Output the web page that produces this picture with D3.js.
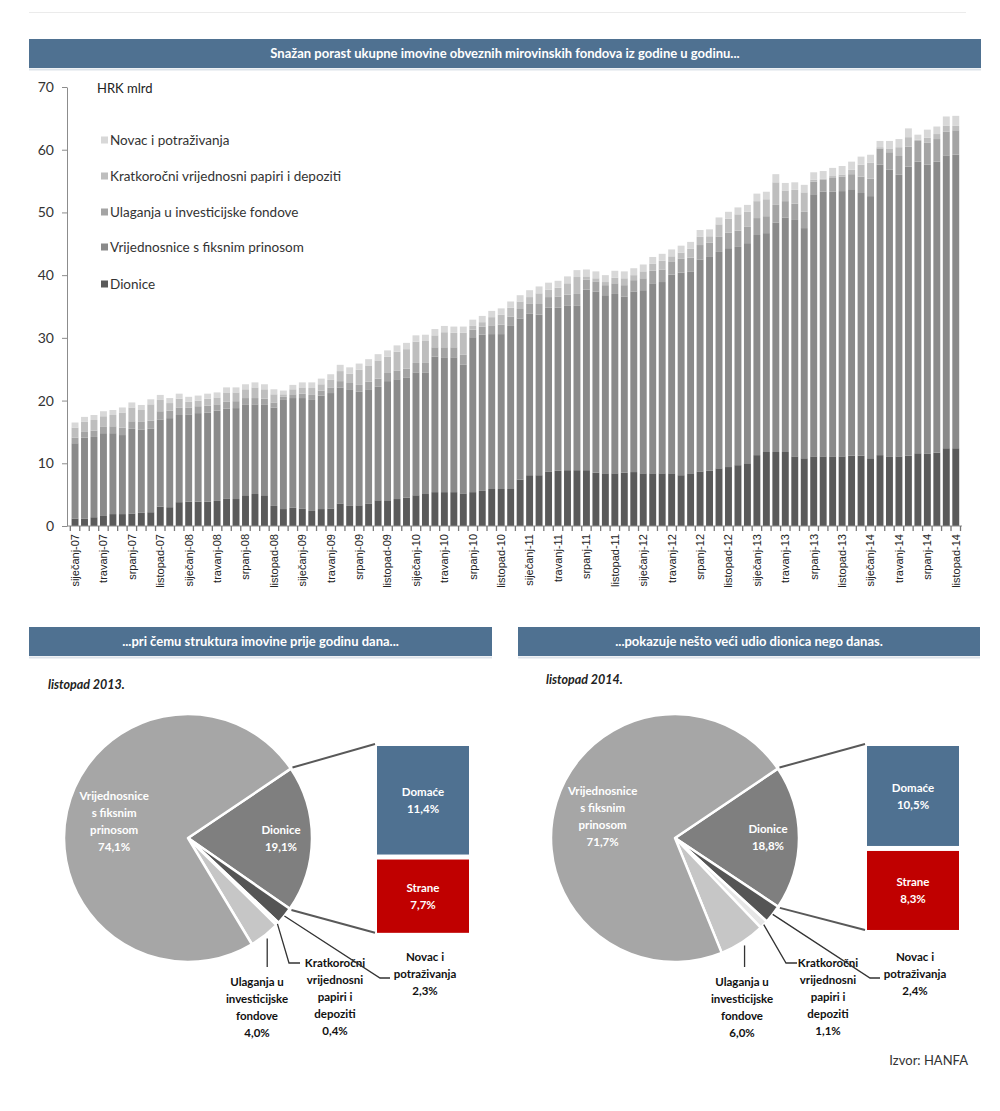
<!DOCTYPE html>
<html><head><meta charset="utf-8">
<script src="https://cdn.jsdelivr.net/npm/d3@7"></script>
<style>body{margin:0;background:#fff}svg{display:block}</style>
</head><body>
<svg id="c" width="1000" height="1111"></svg>
<script>
// ---------- DATA ----------
const tickLabels = [
  "siječanj-07","travanj-07","srpanj-07","listopad-07",
  "siječanj-08","travanj-08","srpanj-08","listopad-08",
  "siječanj-09","travanj-09","srpanj-09","listopad-09",
  "siječanj-10","travanj-10","srpanj-10","listopad-10",
  "siječanj-11","travanj-11","srpanj-11","listopad-11",
  "siječanj-12","travanj-12","srpanj-12","listopad-12",
  "siječanj-13","travanj-13","srpanj-13","listopad-13",
  "siječanj-14","travanj-14","srpanj-14","listopad-14"
];
const dionice = [
  1.2,1.2,1.4,1.6,1.9,1.9,2.0,2.1,2.2,3.1,3.0,3.8,
  3.9,3.9,3.9,4.0,4.4,4.3,4.9,5.1,4.9,3.2,2.7,2.9,
  2.8,2.4,2.7,2.8,3.6,3.2,3.3,3.6,4.1,4.1,4.3,4.5,
  4.9,5.1,5.4,5.4,5.4,5.2,5.4,5.6,5.9,5.9,5.9,7.4,
  8.1,8.1,8.7,8.8,8.9,8.9,8.9,8.5,8.4,8.4,8.5,8.6,
  8.4,8.4,8.4,8.4,8.1,8.4,8.7,8.8,9.2,9.4,9.7,10.0,
  11.3,11.8,11.8,11.8,11.1,10.8,11.1,11.1,11.1,11.1,11.2,11.2,
  10.8,11.3,11.1,11.1,11.2,11.6,11.5,11.7,12.4,12.4
];
const vrijednosnice = [
  12.0,12.9,12.8,13.2,12.9,12.6,13.5,13.3,13.3,13.9,14.2,13.9,
  13.9,14.1,14.2,14.4,14.3,14.5,14.5,14.3,14.5,15.7,17.4,17.5,
  17.6,17.7,18.1,18.4,18.5,18.6,18.1,18.2,18.1,19.0,19.1,19.2,
  19.6,19.4,21.6,21.5,21.5,20.5,24.7,24.9,24.7,24.7,26.0,25.7,
  25.8,25.6,26.1,26.0,26.2,26.2,28.8,28.9,28.4,28.6,28.1,28.8,
  29.2,30.3,30.5,31.7,32.3,32.2,33.8,34.1,34.5,34.9,34.8,35.1,
  35.1,34.9,36.6,37.4,37.7,36.7,41.8,42.2,42.2,42.3,42.5,41.9,
  41.8,46.3,45.7,44.9,46.1,46.5,46.1,46.4,46.7,46.8
];
const ulaganja = [
  0.9,0.9,1.0,1.0,1.1,1.2,1.2,1.2,1.3,1.3,1.2,1.2,
  1.1,1.1,1.1,1.0,1.1,1.1,1.0,1.0,0.9,0.8,0.5,0.6,
  0.7,0.8,0.8,0.9,1.0,1.0,1.1,1.2,1.3,1.3,1.4,1.4,
  1.5,1.5,1.5,1.6,1.6,1.6,1.2,1.3,1.4,1.5,1.5,1.5,
  1.6,1.7,1.7,1.8,1.8,1.9,1.6,1.6,1.6,1.7,1.8,1.8,
  1.9,2.0,2.0,2.1,2.2,2.2,2.3,2.3,2.4,2.5,2.6,2.6,
  2.7,2.7,2.8,2.6,2.6,2.6,2.0,1.9,2.2,2.3,2.4,2.6,
  2.8,2.6,2.8,3.0,3.2,3.3,3.5,3.6,3.8,3.9
];
const kratkorocni = [
  1.6,1.6,1.7,1.7,1.8,2.4,2.2,1.9,2.6,1.8,1.2,1.4,
  0.9,0.9,1.1,1.1,1.5,1.4,1.4,1.7,1.5,1.3,0.4,0.8,
  1.0,1.1,1.0,1.2,1.6,1.5,2.4,2.6,2.9,2.6,3.0,3.1,
  3.4,3.5,1.9,2.4,2.3,3.5,0.6,0.7,1.3,1.6,1.4,1.2,
  1.0,1.7,1.2,1.4,1.8,2.7,0.5,0.5,0.5,0.9,1.1,0.8,
  1.1,1.1,1.4,0.8,1.0,1.4,1.3,1.0,2.0,2.2,2.6,2.4,
  2.7,2.7,3.6,1.7,2.2,3.1,0.3,0.2,0.3,0.35,0.7,1.9,
  2.5,0.2,0.6,1.4,1.5,0.2,0.8,0.8,0.9,0.7
];
const novac = [
  0.8,0.8,0.8,0.8,0.8,0.8,0.8,0.8,0.8,0.8,0.8,0.8,
  0.8,0.8,0.8,0.8,0.8,0.8,0.8,0.8,0.8,0.8,0.6,0.7,
  0.8,0.9,0.9,0.9,1.0,1.0,1.0,1.0,1.0,1.0,1.0,1.0,
  1.0,1.0,1.0,1.0,1.0,1.0,1.0,1.0,1.0,1.0,1.0,1.0,
  1.1,1.1,1.1,1.1,1.1,1.1,1.1,1.1,1.1,1.1,1.1,1.1,
  1.1,1.1,1.1,1.1,1.1,1.1,1.1,1.1,1.1,1.1,1.1,1.1,
  1.2,1.2,1.3,1.2,1.2,1.2,1.2,1.2,1.3,1.35,1.3,1.3,
  1.3,1.0,1.2,1.3,1.4,0.8,1.3,1.2,1.5,1.6
];
const seriesNames = ["Dionice","Vrijednosnice s fiksnim prinosom","Ulaganja u investicijske fondove","Kratkoročni vrijednosni papiri i depoziti","Novac i potraživanja"];

// pie data: Dionice, Novac, Kratkoročni, Ulaganja, Vrijednosnice
const pie2013 = [19.1, 2.3, 0.4, 4.0, 74.1];
const pie2014 = [18.8, 2.4, 1.1, 6.0, 71.7];
const split2013 = [11.4, 7.7]; // Domaće, Strane
const split2014 = [10.5, 8.3];

// ---------- DRAW ----------
const FONT = 'Lato, "Open Sans", sans-serif';
const AX = '"Liberation Sans", Arial, sans-serif';
const svg = d3.select('#c');

svg.append('line').attr('x1',29).attr('x2',966).attr('y1',12.5).attr('y2',12.5)
  .attr('stroke','#ebebeb').attr('stroke-width',1);

function banner(x0,x1,y0,y1,text){
  svg.append('rect').attr('x',x0).attr('y',y0).attr('width',x1-x0).attr('height',y1-y0).attr('fill','#4f7191');
  svg.append('line').attr('x1',x0).attr('x2',x1).attr('y1',y1+1.5).attr('y2',y1+1.5).attr('stroke','#dde3ea').attr('stroke-width',2);
  svg.append('text').attr('x',(x0+x1)/2).attr('y',(y0+y1)/2).attr('dy','0.36em')
    .attr('text-anchor','middle').attr('fill','#fff').attr('font-family',FONT)
    .attr('font-weight','bold').attr('font-size',13).text(text);
}
banner(29,981,39,68,'Snažan porast ukupne imovine obveznih mirovinskih fondova iz godine u godinu...');
banner(29,492,627,656,'...pri čemu struktura imovine prije godinu dana...');
banner(518,980,627,656,'...pokazuje nešto veći udio dionica nego danas.');

// ----- stacked bars -----
const keys = ['dionice','vrij','ulag','krat','novac'];
const colors = {dionice:'#5a5a5a', vrij:'#8a8a8a', ulag:'#a4a4a4', krat:'#bebebe', novac:'#d8d8d8'};
const rows = dionice.map((d,i)=>({i, dionice:d, vrij:vrijednosnice[i], ulag:ulaganja[i], krat:kratkorocni[i], novac:novac[i]}));
const stacked = d3.stack().keys(keys)(rows);

const x = d3.scaleBand().domain(d3.range(rows.length)).range([70.3,960.5]).paddingInner(0.27).paddingOuter(0.135);
const y = d3.scaleLinear().domain([0,70]).range([526,87]);

const gBars = svg.append('g');
gBars.selectAll('g').data(stacked).join('g').attr('fill',d=>colors[d.key])
  .selectAll('rect').data(d=>d).join('rect')
  .attr('x',d=>x(d.data.i)).attr('width',x.bandwidth())
  .attr('y',d=>y(d[1])).attr('height',d=>y(d[0])-y(d[1]));

// y axis
const gy = svg.append('g').attr('transform','translate(67,0)')
  .call(d3.axisLeft(y).tickValues(d3.range(0,71,10)).tickSize(5).tickSizeOuter(0).tickPadding(8));
gy.select('.domain').attr('stroke','#8c8c8c');
gy.selectAll('.tick line').attr('stroke','#8c8c8c');
gy.selectAll('text').attr('font-family',FONT).attr('font-size',14).attr('fill','#333');

// x axis
const gx = svg.append('g').attr('transform','translate(0,526)');
gx.append('line').attr('x1',67).attr('x2',962).attr('stroke','#8c8c8c');
const half = x.step()*x.paddingInner()/2;
gx.selectAll('line.mt').data(d3.range(rows.length+1)).join('line').attr('class','mt')
  .attr('x1',k=> (k<rows.length? x(k)-half : x(rows.length-1)+x.bandwidth()+half))
  .attr('x2',k=> (k<rows.length? x(k)-half : x(rows.length-1)+x.bandwidth()+half))
  .attr('y1',0).attr('y2',5).attr('stroke','#777').attr('stroke-width',1.3);
const gxl = svg.append('g').attr('transform','translate(0,526)')
  .call(d3.axisBottom(x).tickValues(d3.range(0,rows.length,3)).tickFormat((d,k)=>tickLabels[k]).tickSize(0));
gxl.select('.domain').remove();
gxl.selectAll('text').attr('transform','rotate(-90)').attr('text-anchor','end')
  .attr('x',-8).attr('y',0).attr('dy','0.35em')
  .attr('font-family',AX).attr('font-size',11).attr('fill','#222');

svg.append('text').attr('x',97).attr('y',88).attr('dy','0.35em').attr('font-family',FONT)
  .attr('font-size',13).attr('fill','#222').text('HRK mlrd');

// legend
const legendOrder = ['novac','krat','ulag','vrij','dionice'];
const legendY = [140,176,212,247,284];
const gl = svg.append('g');
legendOrder.forEach((k,j)=>{
  gl.append('rect').attr('x',101).attr('y',legendY[j]-3.5).attr('width',7).attr('height',7).attr('fill',colors[k]);
  gl.append('text').attr('x',110).attr('y',legendY[j]).attr('dy','0.35em').attr('font-family',FONT)
    .attr('font-size',13.5).attr('fill','#333').text(seriesNames[keys.indexOf(k)]);
});

// ----- pies -----
const pieColors = ['#7f7f7f','#555555','#e6e6e6','#c6c6c6','#a6a6a6'];
const fmt = v => v.toFixed(1).replace('.',',') + '%';
const boxScale = d3.scaleLinear().domain([0,1]).range([0,9.52]);

function multiline(g, cx, cy, lines, opts){
  const lh = opts.lh || 17;
  const t = g.append('text').attr('text-anchor','middle').attr('font-family',FONT)
    .attr('font-weight','bold').attr('font-size',opts.size||11.5).attr('fill',opts.fill||'#111');
  lines.forEach((s,k)=>{
    t.append('tspan').attr('x',cx).attr('y',cy + (opts.top ? k*lh : (k-(lines.length-1)/2)*lh)).attr('dy','0.35em').text(s);
  });
}

function drawPie(c){
  const r = 124;
  const a0 = 56*Math.PI/180;
  const arcs = d3.pie().sort(null).startAngle(a0).endAngle(a0+2*Math.PI)(c.vals);
  const arc = d3.arc().innerRadius(0).outerRadius(r);
  const g = svg.append('g').attr('transform',`translate(${c.cx},${c.cy})`);
  const pt = (ang,rad)=>[rad*Math.sin(ang), -rad*Math.cos(ang)];
  const mid = a => (a.startAngle+a.endAngle)/2;

  // connector lines to bar-of-pie
  const bx = c.boxX - c.cx;
  const top = 746 - c.cy;
  const hD = boxScale(c.split[0]), hS = boxScale(c.split[1]);
  const bottom = top + hD + 5 + hS;
  const p1 = pt(arcs[0].startAngle, r+2), p2 = pt(arcs[0].endAngle, r+2);
  g.append('line').attr('x1',p1[0]).attr('y1',p1[1]).attr('x2',bx-2).attr('y2',top-2).attr('stroke','#595959').attr('stroke-width',2);
  g.append('line').attr('x1',p2[0]).attr('y1',p2[1]).attr('x2',bx-2).attr('y2',bottom).attr('stroke','#595959').attr('stroke-width',2);

  g.selectAll('path').data(arcs).join('path').attr('d',arc)
    .attr('fill',(d,i)=>pieColors[i]).attr('stroke','#fff').attr('stroke-width',2.5).attr('stroke-linejoin','round');

  // boxes
  g.append('rect').attr('x',bx).attr('y',top).attr('width',92).attr('height',hD).attr('fill','#4f7191');
  g.append('rect').attr('x',bx).attr('y',top+hD+5).attr('width',92).attr('height',hS).attr('fill','#c00000');
  multiline(g, bx+46, top+hD/2, ['Domaće', fmt(c.split[0])], {fill:'#fff', size:11.5});
  multiline(g, bx+46, top+hD+5+hS/2, ['Strane', fmt(c.split[1])], {fill:'#fff', size:11.5});

  // inner labels
  const cD = pt(mid(arcs[0]), r*0.75);
  multiline(g, cD[0], cD[1], ['Dionice', fmt(c.vals[0])], {fill:'#fff', size:11.5});
  const cV = pt(mid(arcs[4]), r*0.61);
  multiline(g, cV[0], cV[1], ['Vrijednosnice','s fiksnim','prinosom', fmt(c.vals[4])], {fill:'#fff', size:11.5});

  // outer labels with leaders
  const ln = (pts)=>g.append('polyline').attr('points',pts.map(p=>p.join(',')).join(' '))
     .attr('fill','none').attr('stroke','#333').attr('stroke-width',1.3);
  const pu = pt(mid(arcs[3]), r+4);
  ln([pu,[pu[0],129]]);
  multiline(g, c.ulagX, 144, ['Ulaganja u','investicijske','fondove', fmt(c.vals[3])], {top:true});
  const pk = pt(mid(arcs[2]), r);
  ln([pk,[c.kratCorner,125],[c.kratCorner+11,125]]);
  multiline(g, c.kratX, 125, ['Kratkoročni','vrijednosni','papiri i','depoziti', fmt(c.vals[2])], {top:true});
  const pn = pt(mid(arcs[1]), r);
  ln([pn,[c.novCorner,140],[c.novCorner+10,140]]);
  multiline(g, c.novX, 119, ['Novac i','potraživanja', fmt(c.vals[1])], {top:true});

  svg.append('text').attr('x',c.subX).attr('y',c.subY).attr('font-family',FONT)
    .attr('font-weight','bold').attr('font-style','italic').attr('font-size',12.5).attr('fill','#222').text(c.sub);
}

drawPie({cx:188, cy:838, vals:pie2013, split:split2013, boxX:377,
  ulagX:69, kratX:147, kratCorner:101, novX:237, novCorner:192,
  sub:'listopad 2013.', subX:48, subY:689});
drawPie({cx:675, cy:838, vals:pie2014, split:split2014, boxX:867,
  ulagX:67, kratX:153, kratCorner:111, novX:240, novCorner:195,
  sub:'listopad 2014.', subX:546, subY:684});

svg.append('text').attr('x',968).attr('y',1060).attr('dy','0.35em').attr('text-anchor','end')
  .attr('font-family',FONT).attr('font-size',13).attr('fill','#333').text('Izvor: HANFA');
</script>
</body></html>
